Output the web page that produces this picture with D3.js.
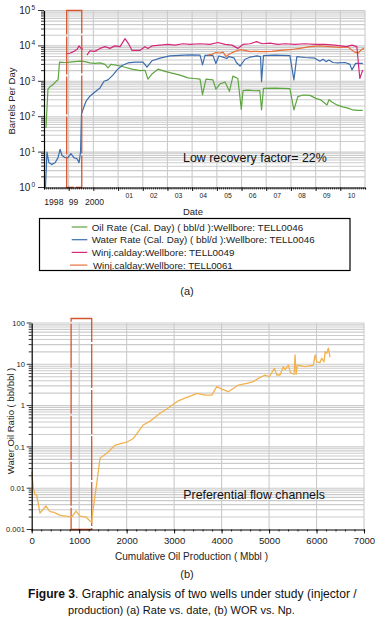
<!DOCTYPE html>
<html><head><meta charset="utf-8">
<script src="https://cdn.jsdelivr.net/npm/d3@7/dist/d3.min.js"></script>
<style>
html,body{margin:0;padding:0;background:#fff;}
svg{display:block;font-family:"Liberation Sans",Arial,sans-serif;}
</style>
</head><body>
<svg id="c" width="375" height="622"></svg>
<script>
// ---------------- DATA (top chart: rate vs date) ----------------
const oilYears = [1998.08,1998.16,1998.24,1998.36,1998.49,1998.57,1998.63,1998.85,1999.05,1999.26,1999.46,1999.66,1999.86,2000.06,2000.27,2000.47,2000.59,2000.71,2000.99,2001.28,2001.56,2001.89,2002.09,2002.21,2002.37,2002.62,2002.9,2003.18,2003.51,2003.83,2004.07,2004.32,2004.42,2004.56,2004.84,2004.96,2005.13,2005.33,2005.51,2005.65,2005.85,2005.99,2006.06,2006.26,2006.54,2006.74,2006.81,2006.89,2007.35,2007.96,2008.12,2008.28,2008.49,2008.77,2009.01,2009.2,2009.46,2009.54,2009.66,2009.86,2010.1,2010.31,2010.51,2010.71,2010.91];
const oilRate  = [48,600,700,800,1000,1100,3500,3400,3500,3600,3700,3600,3300,3200,3300,3000,2400,3000,2800,2500,2200,2000,2050,1150,1600,2200,1900,1700,1500,1250,1200,1150,420,1150,1100,600,850,950,520,1400,1200,160,550,560,540,550,155,630,640,620,155,370,410,400,330,300,215,300,260,215,190,175,155,150,150];

const waterYears = [1998.06,1998.12,1998.2,1998.32,1998.45,1998.57,1998.65,1998.73,1998.85,1998.97,1999.09,1999.21,1999.34,1999.42,1999.48,1999.52,1999.58,1999.7,1999.86,2000.06,2000.27,2000.43,2000.59,2000.79,2000.96,2001.16,2001.4,2001.68,2002.01,2002.17,2002.37,2002.7,2003.1,2003.51,2003.91,2004.32,2004.42,2004.52,2004.84,2004.96,2005.08,2005.25,2005.4,2005.49,2005.69,2005.79,2005.94,2006.14,2006.34,2006.62,2006.77,2006.81,2006.89,2007.35,2007.96,2008.12,2008.24,2008.57,2008.97,2009.17,2009.3,2009.42,2009.54,2009.7,2009.9,2010.19,2010.39,2010.47,2010.62,2010.91];
const waterRate  = [1,10,5,4.5,5,7,12,8,7,7,9,7,6.5,5,10,120,160,270,380,500,650,1000,1100,1500,2100,2800,3300,3500,3500,2500,3800,4500,5200,5400,5600,5500,2900,5400,5400,3200,5200,4800,4400,5000,4600,3400,2700,4200,4800,5200,5000,970,5300,5500,5300,1100,5000,4700,4500,3700,4200,3600,4000,3400,3300,3400,3000,2100,3200,3200];

const inj49Years = [1998.92,1999.05,1999.21,1999.34,1999.42,1999.5,1999.58,1999.62,1999.74,1999.86,2000.06,2000.27,2000.47,2000.67,2000.87,2001.08,2001.28,2001.44,2001.56,2001.89,2002.09,2002.21,2002.37,2002.7,2003.02,2003.3,2003.63,2003.91,2004.32,2004.72,2005.04,2005.33,2005.61,2005.85,2006.06,2006.34,2006.61,2006.83,2007.15,2007.47,2007.76,2008.16,2008.57,2008.97,2009.38,2009.78,2010.25,2010.47,2010.67,2010.79,2010.91];
const inj49Rate  = [6000,6200,7000,8000,10000,8500,8000,null,5500,7200,7000,8500,9500,8500,10000,9500,16000,11000,7500,7500,9500,8500,10000,10500,11000,10500,11500,11000,11500,11000,12500,11000,10500,8500,11000,11500,13200,11500,12000,11000,11500,11000,11500,11000,11000,10500,9500,10500,9500,1200,2100];

const inj61Years = [2004.64,2004.8,2004.96,2005.13,2005.25,2005.37,2005.53,2005.73,2005.94,2006.14,2006.34,2006.54,2006.74,2006.95,2007.23,2007.55,2007.96,2008.36,2008.77,2009.17,2009.58,2009.98,2010.31,2010.55,2010.71,2010.87,2010.96];
const inj61Rate  = [5500,5800,6500,6300,6700,5000,6000,7000,7800,7500,6900,7000,6900,6900,7000,7500,7800,8500,9500,10000,9500,9100,9300,6900,6200,8000,8500];

const seriesNames = ["Oil Rate (Cal. Day) ( bbl/d ):Wellbore: TELL0046","Water Rate (Cal. Day) ( bbl/d ):Wellbore: TELL0046","Winj.calday:Wellbore: TELL0049","Winj.calday:Wellbore: TELL0061"];
const seriesColors = ["#5ea63f","#3b6db0","#d4287a","#e8703a"];

const topXTickLabels = ["1998","99","2000","01","02","03","04","05","06","07","08","09","10"];
const topXTickYears  = [1998.4,1999.2,2000.05,2001.45,2002.45,2003.45,2004.45,2005.45,2006.45,2007.45,2008.45,2009.45,2010.45];
const topYDecades = [0,1,2,3,4,5];
const topHighlight = [1998.92,1999.53];
const topNote = "Low recovery factor= 22%";

// ---------------- DATA (bottom chart: WOR vs Np) ----------------
const npMbbl = [0,34,70,105,175,300,385,470,596,723,843,933,1018,1144,1228,1264,1292,1370,1439,1580,1755,2002,2141,2351,2493,2703,2845,2984,3089,3266,3371,3477,3651,3793,3898,4003,4142,4353,4530,4669,4775,4916,5006,5112,5162,5232,5301,5337,5407,5442,5478,5527,5548,5569,5596,5758,5933,5969,6005,6074,6110,6159,6180,6216,6249,6285];
const worVals = [0.025,0.01,0.007,0.0068,0.0025,0.0037,0.0027,0.0026,0.0022,0.0021,0.002,0.0028,0.0021,0.002,0.0016,0.0015,0.003,0.013,0.053,0.07,0.11,0.13,0.16,0.34,0.42,0.65,0.83,1.08,1.3,1.58,1.75,1.98,1.8,1.8,2.87,2.5,2.17,3.15,3.45,3.8,4.57,5.5,5.0,8.0,5.5,5.5,8.8,7.3,9.6,6.6,6.0,5.8,16.8,5.7,9.6,8.8,9.6,16.8,11.5,11,14,11.5,20,18.5,24.5,15];
const botXTicks = [0,1000,2000,3000,4000,5000,6000,7000];
const botYTicks = [100,10,1,0.1,0.01,0.001];
const botYTickLabels = ["100","10","1","0.1","0.01","0.001"];
const botHighlight = [830,1264];
const botNote = "Preferential flow channels";

// ---------------- helpers ----------------
const svg = d3.select("#c");
const GRID = "#cbcbcb";
function yearToDate(y){ const yr=Math.floor(y); const a=Date.UTC(yr,0,1), b=Date.UTC(yr+1,0,1); return new Date(a+(y-yr)*(b-a)); }
function fit(sel, w){ const n=sel.node(); const fs=parseFloat(sel.attr("font-size")); const l=n.getComputedTextLength(); sel.attr("font-size", (fs*w/l).toFixed(2)); return sel; }

// ================= TOP CHART =================
const tx = d3.scaleUtc().domain([yearToDate(1998), yearToDate(2011)]).range([44, 365]);
const ty = d3.scaleLog().domain([1, 1e5]).range([187.5, 10.5]);
const gT = svg.append("g");

const topGridVals = [];
for (const d of topYDecades.slice(0,-1)) for (let m=1;m<=9;m++) topGridVals.push(m*Math.pow(10,d));
topGridVals.push(1e5);
gT.selectAll(".hg").data(topGridVals.filter(v=>v>1)).join("line")
  .attr("x1",tx.range()[0]).attr("x2",tx.range()[1])
  .attr("y1",d=>ty(d)).attr("y2",d=>ty(d))
  .attr("stroke",GRID).attr("stroke-width",1.1);
const yearBounds = d3.range(1999, 2012).map(yearToDate);
gT.selectAll(".vg").data(yearBounds).join("line")
  .attr("x1",d=>tx(d)).attr("x2",d=>tx(d)).attr("y1",ty(1)).attr("y2",ty(1e5))
  .attr("stroke",GRID).attr("stroke-width",1.1);

const topLine = d3.line().defined(d=>d[1]!=null).x(d=>tx(yearToDate(d[0]))).y(d=>ty(d[1]));
const topSeries = [
  d3.zip(oilYears, oilRate), d3.zip(waterYears, waterRate),
  d3.zip(inj49Years, inj49Rate), d3.zip(inj61Years, inj61Rate)
];
[0,1,3,2].forEach(i=>{
  gT.append("path").datum(topSeries[i]).attr("d",topLine)
    .attr("fill","none").attr("stroke",seriesColors[i]).attr("stroke-width",1.2).attr("stroke-linejoin","round");
});

gT.append("rect")
  .attr("x",tx(yearToDate(topHighlight[0]))).attr("y",ty(1e5))
  .attr("width",tx(yearToDate(topHighlight[1]))-tx(yearToDate(topHighlight[0])))
  .attr("height",ty(1)-ty(1e5))
  .attr("fill","none").attr("stroke","#d3562e").attr("stroke-width",1.3).attr("stroke-dasharray","38,2");

const yAxT = d3.axisLeft(ty).tickValues(topGridVals).tickSize(0).tickFormat("");
const gyT = gT.append("g").attr("transform",`translate(${tx.range()[0]},0)`).call(yAxT);
gyT.select(".domain").attr("stroke","#000").attr("stroke-width",1.2);
gT.selectAll(".ytm").data(topGridVals).join("line")
  .attr("x1",d=>tx.range()[0]-(Number.isInteger(Math.log10(d))?6:3)).attr("x2",tx.range()[0])
  .attr("y1",d=>ty(d)).attr("y2",d=>ty(d)).attr("stroke","#000").attr("stroke-width",0.8);
topYDecades.forEach(d=>{
  const t = gT.append("text").attr("x",35).attr("y",ty(Math.pow(10,d))+3.5)
    .attr("text-anchor","end").attr("font-size",10).attr("fill","#222");
  t.append("tspan").text("10");
  t.append("tspan").attr("dy",-4).attr("dx",1).attr("font-size",6.5).text(String(d));
});
const months = d3.utcMonth.range(yearToDate(1998), yearToDate(2011));
const gxT = gT.append("g").attr("transform",`translate(0,${ty(1)})`)
  .call(d3.axisBottom(tx).tickValues(months).tickSize(2).tickFormat(""));
gxT.select(".domain").attr("stroke","#000").attr("stroke-width",1.2);
gxT.selectAll(".tick line").attr("stroke","#000").attr("stroke-width",0.7);
const gxT2 = gT.append("g").attr("transform",`translate(0,${ty(1)})`)
  .call(d3.axisBottom(tx).tickValues(yearBounds.slice(0,-1)).tickSize(3.5).tickFormat(""));
gxT2.select(".domain").remove();
gxT2.selectAll(".tick line").attr("stroke","#000").attr("stroke-width",0.9);
topXTickLabels.forEach((lab,i)=>{
  const low = i<3;
  gT.append("text").attr("x",tx(yearToDate(topXTickYears[i]))).attr("y",low?205:198)
    .attr("text-anchor","middle").attr("font-size",low?8.6:6.8).attr("fill","#222").text(lab);
});
gT.append("text").attr("x",193).attr("y",214.5).attr("text-anchor","middle").attr("font-size",9.5).attr("fill","#222").text("Date");
gT.append("text").attr("transform","translate(15,101) rotate(-90)").attr("text-anchor","middle").attr("font-size",9.5).attr("fill","#222").text("Barrels Per Day");
fit(gT.append("text").attr("x",183).attr("y",162).attr("font-size",12).attr("fill","#111").text(topNote),144);

// legend
const gL = svg.append("g");
gL.append("rect").attr("x",39.5).attr("y",218.5).attr("width",310.5).attr("height",52).attr("fill","#fff").attr("stroke","#000").attr("stroke-width",1.2);
const legendTextWidths = [212,223,143,140];
seriesNames.forEach((nm,i)=>{
  const cy = 227 + i*12.7;
  gL.append("line").attr("x1",i===3?70:71.7).attr("x2",87.3).attr("y1",cy).attr("y2",cy).attr("stroke",seriesColors[i]).attr("stroke-width",1.2);
  const t = gL.append("text").attr("x",i===3?93:91.7).attr("y",cy+3.5).attr("font-size",10).attr("fill","#222").text(nm);
  fit(t,legendTextWidths[i]);
});
svg.append("text").attr("x",187).attr("y",294.5).attr("text-anchor","middle").attr("font-size",11).attr("fill","#222").text("(a)");

// ================= BOTTOM CHART =================
const bx = d3.scaleLinear().domain([0,7000]).range([31.7,364]);
const by = d3.scaleLog().domain([0.001,100]).range([529.5,323]);
const gB = svg.append("g");
const botGridVals = [];
[-3,-2,-1,0,1].forEach(d=>{ for(let m=1;m<=9;m++) botGridVals.push(+(m*Math.pow(10,d)).toPrecision(3)); });
botGridVals.push(100);
gB.selectAll(".hg").data(botGridVals.filter(v=>v>0.001)).join("line")
  .attr("x1",bx.range()[0]).attr("x2",bx.range()[1]).attr("y1",d=>by(d)).attr("y2",d=>by(d))
  .attr("stroke",GRID).attr("stroke-width",1.1);
gB.selectAll(".vg").data(botXTicks.slice(1)).join("line")
  .attr("x1",d=>bx(d)).attr("x2",d=>bx(d)).attr("y1",by(0.001)).attr("y2",by(100))
  .attr("stroke",GRID).attr("stroke-width",1.1);

gB.append("rect")
  .attr("x",bx(botHighlight[0])).attr("y",by(100)-4.5)
  .attr("width",bx(botHighlight[1])-bx(botHighlight[0])).attr("height",by(0.001)-by(100)+4.5)
  .attr("fill","none").attr("stroke","#d3562e").attr("stroke-width",1.3).attr("stroke-dasharray","44,2");

gB.append("path").datum(d3.zip(npMbbl, worVals))
  .attr("d", d3.line().x(d=>bx(d[0])).y(d=>by(d[1])))
  .attr("fill","none").attr("stroke","#f2b24e").attr("stroke-width",1.3).attr("stroke-linejoin","round");

const gyB = gB.append("g").attr("transform",`translate(${bx.range()[0]},0)`)
  .call(d3.axisLeft(by).tickValues(botGridVals).tickSize(0).tickFormat(""));
gyB.select(".domain").attr("stroke","#000").attr("stroke-width",1.2);
gB.selectAll(".ytm").data(botGridVals).join("line")
  .attr("x1",d=>bx.range()[0]-(botYTicks.includes(d)?5:3)).attr("x2",bx.range()[0])
  .attr("y1",d=>by(d)).attr("y2",d=>by(d)).attr("stroke","#000").attr("stroke-width",0.8);
botYTicks.forEach((v,i)=>{
  gB.append("text").attr("x",25).attr("y",by(v)+2.7).attr("text-anchor","end")
    .attr("font-size",7.6).attr("fill","#222").text(botYTickLabels[i]);
});
const gxB = gB.append("g").attr("transform",`translate(0,${by(0.001)})`)
  .call(d3.axisBottom(bx).tickValues(d3.range(0,7001,200)).tickSize(2).tickFormat(""));
gxB.select(".domain").attr("stroke","#000").attr("stroke-width",1.2);
gxB.selectAll(".tick line").attr("stroke","#000").attr("stroke-width",0.8);
const gxB2 = gB.append("g").attr("transform",`translate(0,${by(0.001)})`)
  .call(d3.axisBottom(bx).tickValues(botXTicks).tickSize(4).tickPadding(4).tickFormat(d3.format("d")));
gxB2.select(".domain").remove();
gxB2.selectAll(".tick line").attr("stroke","#000").attr("stroke-width",0.9);
gxB2.selectAll(".tick text").attr("font-size",9.6).attr("fill","#222").attr("font-family",null).attr("dy","0.71em");
gB.append("text").attr("transform","translate(14,421) rotate(-90)").attr("text-anchor","middle").attr("font-size",9.5).attr("fill","#222").text("Water Oil Ratio ( bbl/bbl )");
fit(gB.append("text").attr("x",115).attr("y",559.5).attr("font-size",9).attr("fill","#222").text("Cumulative Oil Production ( Mbbl )"),153);
fit(gB.append("text").attr("x",183.3).attr("y",499).attr("font-size",11.5).attr("fill","#111").text(botNote),141.7);
svg.append("text").attr("x",187).attr("y",577.5).attr("text-anchor","middle").attr("font-size",11).attr("fill","#222").text("(b)");

const c1 = svg.append("text").attr("x",28).attr("y",598).attr("font-size",11).attr("fill","#111");
c1.append("tspan").attr("font-weight","bold").text("Figure 3");
c1.append("tspan").text(". Graphic analysis of two wells under study (injector /");
fit(c1,329);
fit(svg.append("text").attr("x",68).attr("y",614).attr("font-size",11).attr("fill","#111").text("production) (a) Rate vs. date, (b) WOR vs. Np."),227);
</script>
</body></html>
